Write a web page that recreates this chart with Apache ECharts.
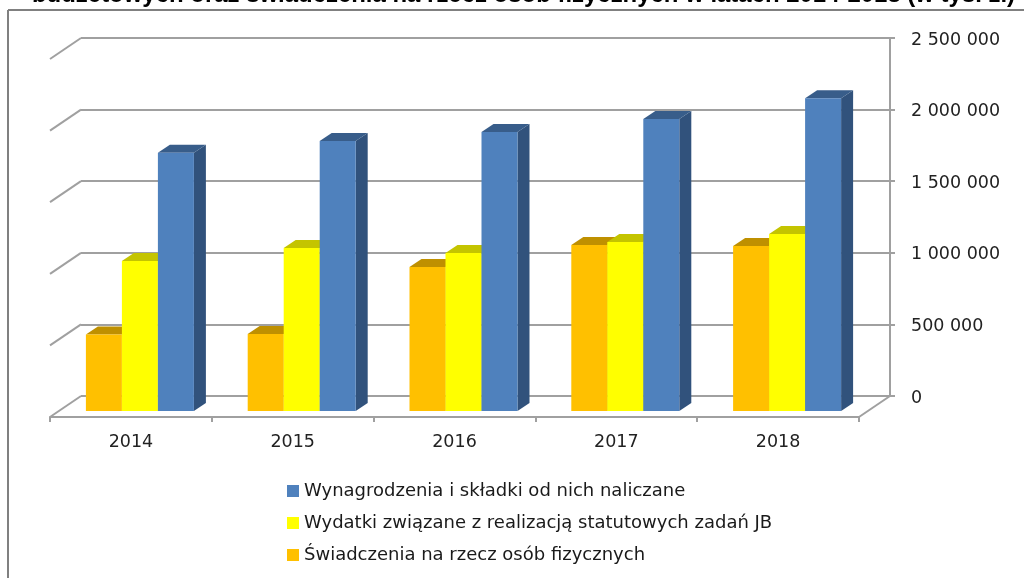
<!DOCTYPE html>
<html><head><meta charset="utf-8">
<style>html,body{margin:0;padding:0;background:#fff}#c{width:1024px;height:578px}</style>
<script src="https://cdn.jsdelivr.net/npm/echarts@6/dist/echarts.min.js"></script>
</head><body><div id="c"></div>
<script>
const titleText = 'budżetowych oraz świadczenia na rzecz osób fizycznych w latach 2014-2018 (w tys. zł)';
const years = ['2014', '2015', '2016', '2017', '2018'];
const swiadczenia = [534000, 538000, 1006000, 1159000, 1152000];
const wydatki = [1047000, 1138000, 1103000, 1180000, 1236000];
const wynagrodzenia = [1804000, 1885000, 1948000, 2039000, 2184000];
const valueTicks = [0, 500000, 1000000, 1500000, 2000000, 2500000];
const nameWyn = 'Wynagrodzenia i składki od nich naliczane';
const nameWyd = 'Wydatki związane z realizacją statutowych zadań JB';
const nameSwi = 'Świadczenia na rzecz osób fizycznych';

const GREY = '#a0a0a0';
const FONT = '"DejaVu Sans", sans-serif';
const LEFT = 50, FRONT_W = 809, TOP = 59, H = 358, DX = 31, DY = -21, LABEL_SHIFT = 2;
const BAR_W = 36, BAR_DX = 9, BAR_DY = -6, SIDE_DX = 12, SIDE_DY = -8;

function barRender(slot, front, top, side) {
  return function (params, api) {
    const p0 = api.coord([api.value(0), 0]);
    const p1 = api.coord([api.value(0), api.value(1)]);
    const x = p0[0] + BAR_DX + (slot - 0.5) * BAR_W;
    const yb = p0[1] + BAR_DY, yt = p1[1] + BAR_DY;
    const xr = x + BAR_W;
    return { type: 'group', children: [
      { type: 'polygon', shape: { points: [[xr, yb], [xr + SIDE_DX, yb + SIDE_DY], [xr + SIDE_DX, yt + SIDE_DY], [xr, yt]] }, style: { fill: side } },
      { type: 'polygon', shape: { points: [[x, yt], [x + SIDE_DX, yt + SIDE_DY], [xr + SIDE_DX, yt + SIDE_DY], [xr, yt]] }, style: { fill: top } },
      { type: 'rect', shape: { x: x, y: yt, width: BAR_W, height: yb - yt }, style: { fill: front } }
    ] };
  };
}
function barSeries(name, values, slot, front, top, side) {
  return { name, type: 'custom', xAxisIndex: 1, yAxisIndex: 1, z: 5, clip: false,
    itemStyle: { color: front }, encode: { x: 0, y: 1 },
    data: values.map((v, i) => [i, v]), renderItem: barRender(slot, front, top, side) };
}
function slantRender(params, api) {
  const v = api.value(1);
  const p = api.coord([0, v]);
  const half = api.size([1, 0])[0] / 2;
  const x0 = p[0] - half;
  const lineStyle = { stroke: GREY, lineWidth: 2, fill: null };
  const kids = [{ type: 'line', shape: { x1: x0, y1: p[1], x2: x0 + DX, y2: p[1] + DY }, style: lineStyle }];
  if (v === 0) {
    const xr = api.coord([years.length - 1, 0])[0] + half;
    kids.push({ type: 'line', shape: { x1: xr, y1: p[1], x2: xr + DX, y2: p[1] + DY }, style: lineStyle });
  }
  return { type: 'group', children: kids };
}

const chart = echarts.init(document.getElementById('c'), null, { renderer: 'canvas' });
chart.setOption({
  animation: false,
  backgroundColor: '#fff',
  title: { text: titleText, left: 32, top: -17, padding: 0,
    textStyle: { fontFamily: '"Liberation Sans", Arial, sans-serif', fontWeight: 'bold', fontSize: 23.95, color: '#000' } },
  legend: { orient: 'vertical', left: 287, top: 480, itemWidth: 12, itemHeight: 12, itemGap: 10, icon: 'rect', padding: 0,
    data: [nameWyn, nameWyd, nameSwi], selectedMode: false,
    textStyle: { fontFamily: FONT, fontSize: 18, color: '#1a1a1a', padding: [0, 0, 0, 0], height: 22, lineHeight: 22 } },
  grid: [
    { left: LEFT + DX, top: TOP + DY, width: FRONT_W, height: H },
    { left: LEFT, top: TOP, width: FRONT_W, height: H },
    { left: LEFT + DX, top: TOP + DY + LABEL_SHIFT, width: FRONT_W, height: H }
  ],
  xAxis: [
    { gridIndex: 0, type: 'category', data: years, show: false },
    { gridIndex: 1, type: 'category', data: years, position: 'bottom',
      axisLine: { show: true, lineStyle: { color: GREY, width: 2 } },
      axisTick: { show: true, length: 5, alignWithLabel: false, lineStyle: { color: GREY, width: 2 } },
      axisLabel: { margin: 16, fontFamily: FONT, fontSize: 17.5, color: '#222' } },
    { gridIndex: 2, type: 'category', data: years, show: false }
  ],
  yAxis: [
    { gridIndex: 0, type: 'value', min: 0, max: 2500000, interval: 500000, position: 'right',
      axisLine: { show: true, lineStyle: { color: GREY, width: 2 } },
      axisTick: { show: true, length: 5, lineStyle: { color: GREY, width: 2 } },
      splitLine: { show: true, lineStyle: { color: GREY, width: 2 } },
      axisLabel: { show: false } },
    { gridIndex: 1, type: 'value', min: 0, max: 2500000, interval: 500000, show: false },
    { gridIndex: 2, type: 'value', min: 0, max: 2500000, interval: 500000, position: 'right',
      axisLine: { show: false }, axisTick: { show: false }, splitLine: { show: false },
      axisLabel: { margin: 21, fontFamily: FONT, fontSize: 17.5, color: '#222',
        formatter: v => String(v).replace(/\B(?=(\d{3})+$)/g, ' ') } }
  ],
  graphic: [
    { type: 'line', z: 100, silent: true, shape: { x1: 8, y1: 10, x2: 1024, y2: 10 }, style: { stroke: '#808080', lineWidth: 2 } },
    { type: 'line', z: 100, silent: true, shape: { x1: 8, y1: 10, x2: 8, y2: 578 }, style: { stroke: '#808080', lineWidth: 2 } }
  ],
  series: [
    { name: 'ticks', type: 'custom', xAxisIndex: 1, yAxisIndex: 1, z: 1, clip: false, encode: { x: 0, y: 1 },
      data: valueTicks.map(v => [0, v]), renderItem: slantRender },
    barSeries(nameSwi, swiadczenia, -1, '#FFC000', '#BF9000', '#BF9000'),
    barSeries(nameWyd, wydatki, 0, '#FFFF00', '#C4C400', '#C4C400'),
    barSeries(nameWyn, wynagrodzenia, 1, '#4F81BD', '#385D8A', '#31527C')
  ]
});
</script></body></html>
